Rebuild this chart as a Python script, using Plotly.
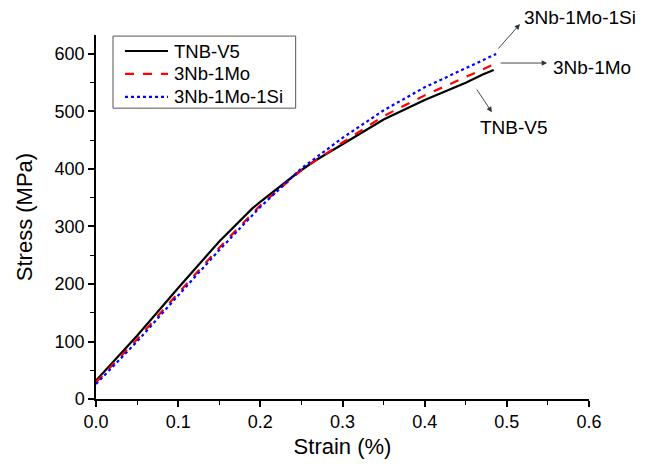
import plotly.graph_objects as go

# Data
tnb_strain = [0.0, 0.05, 0.10, 0.15, 0.19, 0.20, 0.245, 0.265, 0.30, 0.35, 0.40, 0.43, 0.45, 0.47, 0.484]
tnb_stress = [32, 110, 193, 274, 331, 343, 393, 413, 443, 486, 520, 538, 550, 564, 572]

mo_strain = [0.0, 0.05, 0.10, 0.15, 0.20, 0.25, 0.30, 0.35, 0.40, 0.45, 0.486]
mo_stress = [29, 104, 184, 263, 337, 398, 446, 492, 528, 560, 583]

si_strain = [0.0, 0.05, 0.10, 0.15, 0.20, 0.25, 0.30, 0.35, 0.40, 0.45, 0.487]
si_stress = [26, 100, 180, 259, 334, 401, 454, 502, 542, 575, 600]

series_names = ["TNB-V5", "3Nb-1Mo", "3Nb-1Mo-1Si"]
series_colors = ["black", "#ff0000", "#0000ff"]
series_dash = ["solid", "dash", "dot"]

FONT = "Liberation Sans, Arial, sans-serif"

fig = go.Figure()
for xs, ys, nm, col, ds in zip([tnb_strain, mo_strain, si_strain],
                               [tnb_stress, mo_stress, si_stress],
                               series_names, series_colors, series_dash):
    fig.add_trace(go.Scatter(x=xs, y=ys, mode="lines", name=nm,
                             line=dict(color=col, width=2.2, dash=ds)))

axis_common = dict(
    showline=True, linecolor="black", linewidth=1.5, showgrid=False, zeroline=False,
    ticks="outside", ticklen=6, tickwidth=1.5, tickcolor="black", automargin=False,
    tickfont=dict(family=FONT, size=18, color="black"),
)
fig.update_xaxes(range=[0, 0.6], dtick=0.1, tickformat=".1f",
                 minor=dict(dtick=0.05, ticks="outside", ticklen=4, tickwidth=1.2, tickcolor="black"),
                 title=dict(text="Strain (%)", font=dict(family=FONT, size=22, color="black"), standoff=7),
                 **axis_common)
fig.update_yaxes(range=[0, 633], dtick=100,
                 minor=dict(dtick=50, ticks="outside", ticklen=4, tickwidth=1.2, tickcolor="black"),
                 title=dict(text="Stress (MPa)", font=dict(family=FONT, size=22, color="black"), standoff=16),
                 **axis_common)

# Legend box drawn in paper coordinates (to match the compact row spacing)
fig.add_shape(type="rect", xref="paper", yref="paper", x0=0.0345, x1=0.405, y0=0.799, y1=0.997,
              line=dict(color="#555555", width=1), fillcolor="white", layer="above")
legend_rows_y = [0.956, 0.893, 0.830]
for nm, col, ds, ry in zip(series_names, series_colors, series_dash, legend_rows_y):
    fig.add_shape(type="line", xref="paper", yref="paper", x0=0.0588, x1=0.146, y0=ry, y1=ry,
                  line=dict(color=col, width=2.2, dash=ds), layer="above")
    fig.add_annotation(x=0.155, y=ry, xref="paper", yref="paper", text=nm, showarrow=False,
                       xanchor="left", yanchor="middle",
                       font=dict(family=FONT, size=18.5, color="black"))

# Arrows (head positions in paper coords, tails as pixel offsets)
arrows = [
    (0.860, 1.030, -23, 26),
    (0.915, 0.923, -48, 0),
    (0.803, 0.788, -16, -24),
]
for hx, hy, ax, ay in arrows:
    fig.add_annotation(x=hx, y=hy, xref="paper", yref="paper", text="", showarrow=True,
                       ax=ax, ay=ay, arrowhead=2, arrowsize=1.2, arrowwidth=0.9, arrowcolor="#333333")

labels = [
    ("3Nb-1Mo-1Si", 0.982, 1.049),
    ("3Nb-1Mo", 1.006, 0.912),
    ("TNB-V5", 0.848, 0.747),
]
for txt, lx, ly in labels:
    fig.add_annotation(x=lx, y=ly, xref="paper", yref="paper", text=txt, showarrow=False,
                       xanchor="center", yanchor="middle",
                       font=dict(family=FONT, size=19, color="black"))

# The page body adds an 8px margin, so the figure is sized to fit the window
fig.update_layout(
    template="none",
    width=642, height=456,
    margin=dict(l=88, r=61, t=27, b=65),
    paper_bgcolor="white", plot_bgcolor="white",
    font=dict(family=FONT, color="black"),
    showlegend=False,
)

fig.write_html("out.html")
